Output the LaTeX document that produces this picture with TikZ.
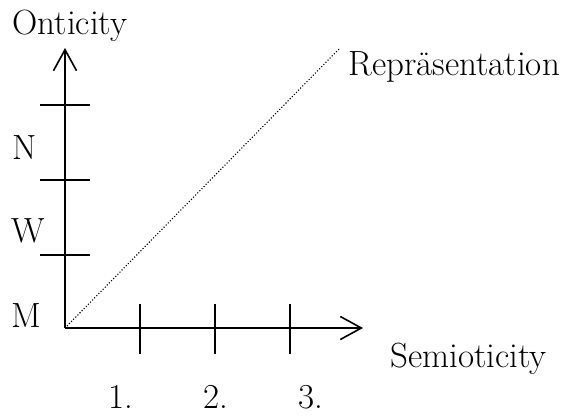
\documentclass[tikz,border=0pt]{standalone}
\usepackage{fontspec}
\usetikzlibrary{arrows.meta}
\tikzset{
  axis/.style={line width=1.6pt, -{Straight Barb[length=21pt,width=23pt,line width=1.6pt]}},
  tick/.style={line width=1.6pt},
  lbl/.style={inner sep=0pt, font=\fontsize{35}{40}\selectfont},
  diag/.style={line width=1.1pt, dash pattern=on 1.1pt off 1.9pt}
}
\begin{document}
\begin{tikzpicture}[x=1pt,y=-1pt]
\useasboundingbox (0,0) rectangle (569,415);
\coordinate (O) at (65,328);
\coordinate (Ytip) at (65,48);
\coordinate (Xtip) at (363,328);
\coordinate (D0) at (67,326);
\coordinate (D1) at (340,48);
% axes
\draw[axis] (O) -- (Ytip);
\draw[axis] (O) -- (Xtip);
% vertical ticks
\coordinate (ya1) at (40,105); \coordinate (yb1) at (90,105);
\coordinate (ya2) at (40,180); \coordinate (yb2) at (90,180);
\coordinate (ya3) at (40,255); \coordinate (yb3) at (90,255);
\draw[tick] (ya1) -- (yb1);
\draw[tick] (ya2) -- (yb2);
\draw[tick] (ya3) -- (yb3);
% horizontal ticks
\coordinate (xa1) at (140,304); \coordinate (xb1) at (140,354);
\coordinate (xa2) at (215,304); \coordinate (xb2) at (215,354);
\coordinate (xa3) at (290,304); \coordinate (xb3) at (290,354);
\draw[tick] (xa1) -- (xb1);
\draw[tick] (xa2) -- (xb2);
\draw[tick] (xa3) -- (xb3);
% diagonal
\draw[diag] (D0) -- (D1);
% labels
\node[lbl, anchor=base] (ont) at (70,34) {Onticity};
\node[lbl, anchor=base west] (rep) at (348,75) {Repräsentation};
\node[lbl, anchor=base west] (sem) at (390,367) {Semioticity};
\node[lbl, anchor=base west] (n) at (12,159) {N};
\node[lbl, anchor=base west] (w) at (11,242) {W};
\node[lbl, anchor=base west] (m) at (11,327) {M};
\node[lbl, anchor=base] (one) at (121,408) {1.};
\node[lbl, anchor=base] (two) at (216,408) {2.};
\node[lbl, anchor=base] (three) at (311,408) {3.};
\end{tikzpicture}
\end{document}
